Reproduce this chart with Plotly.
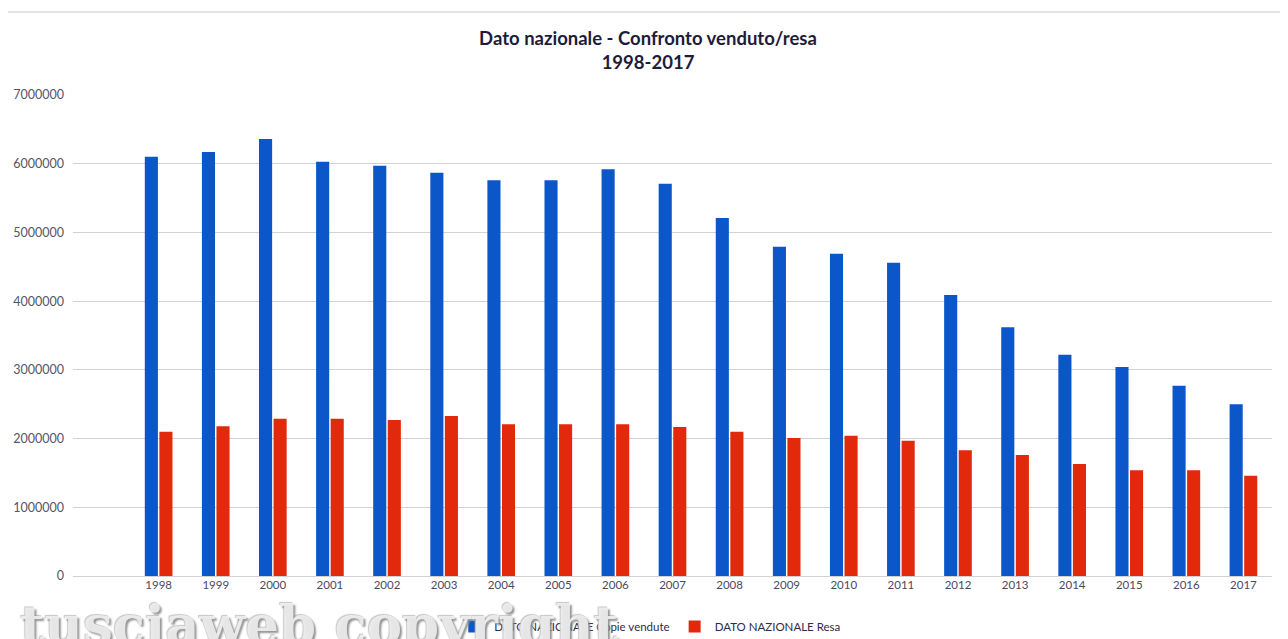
import plotly.graph_objects as go

anni = [str(a) for a in range(1998, 2018)]

copie_vendute = [6100000, 6170000, 6360000, 6030000, 5970000, 5870000, 5760000, 5760000,
                 5920000, 5710000, 5210000, 4790000, 4690000, 4560000, 4090000, 3620000,
                 3220000, 3040000, 2770000, 2500000]

resa = [2100000, 2180000, 2290000, 2290000, 2270000, 2330000, 2210000, 2210000,
        2210000, 2170000, 2100000, 2010000, 2040000, 1970000, 1830000, 1760000,
        1630000, 1540000, 1540000, 1460000]

BLU = '#0b56c8'
ROSSO = '#e2290c'

fig = go.Figure()

fig.add_trace(go.Bar(
    x=anni,
    y=copie_vendute,
    name='DATO NAZIONALE Copie vendute',
    marker={'color': BLU, 'line': {'width': 0}},
))

fig.add_trace(go.Bar(
    x=anni,
    y=resa,
    name='DATO NAZIONALE Resa',
    marker={'color': ROSSO, 'line': {'width': 0}},
))

# la pagina html ha 8px di margine sul body: la figura e' 1280x631
fig.update_layout(
    width=1280,
    height=631,
    margin={'l': 65, 'r': 16, 't': 87, 'b': 63, 'autoexpand': False},
    paper_bgcolor='white',
    plot_bgcolor='white',
    barmode='group',
    bargap=0.49,
    bargroupgap=0.1,
    font={'family': 'Lato, Open Sans, sans-serif', 'color': '#55546a', 'size': 11},
    title={
        'text': '<b>Dato nazionale - Confronto venduto/resa<br>1998-2017</b>',
        'x': 0.5,
        'xanchor': 'center',
        'y': 0.942,
        'yanchor': 'top',
        'font': {'family': 'Lato, Open Sans, sans-serif', 'size': 18.5, 'color': '#1e1c3a'},
    },
    xaxis={
        'type': 'category',
        'range': [-1.5, 19.5],
        'showgrid': False,
        'showline': False,
        'ticks': '',
        'automargin': False,
        'tickfont': {'size': 11.5, 'color': '#4a4962'},
    },
    yaxis={
        'range': [0, 7000000],
        'dtick': 1000000,
        'tickformat': 'd',
        'showgrid': True,
        'gridcolor': '#d2d2d2',
        'gridwidth': 1,
        'zeroline': True,
        'zerolinecolor': '#d2d2d2',
        'zerolinewidth': 1,
        'ticks': '',
        'automargin': False,
        'ticklabelstandoff': 8,
        'tickfont': {'size': 12.5, 'color': '#55546a'},
    },
    legend={
        'orientation': 'h',
        'x': 0.318,
        'xanchor': 'left',
        'y': -0.075,
        'yanchor': 'top',
        'font': {'size': 11.5, 'color': '#2e2c4a'},
        'itemwidth': 30,
        'tracegroupgap': 0,
    },
    showlegend=True,
)

# cornice grigia del grafico
fig.add_shape(
    type='rect', xref='paper', yref='paper',
    x0=-0.0567, x1=1.0092, y0=-0.2, y1=1.1726,
    line={'color': '#c8c8c8', 'width': 1},
    fillcolor='rgba(0,0,0,0)', layer='below',
)

# filigrana
fig.add_annotation(
    text='<b>tusciaweb copyright</b>',
    xref='paper', yref='paper',
    x=-0.046, y=-0.168,
    xanchor='left', yanchor='bottom',
    showarrow=False,
    font={'family': 'DejaVu Serif, serif', 'size': 53, 'color': 'rgba(240,240,240,0.9)',
          'shadow': '2px 2px 2px #8a8a8a, -1px -1px 1px #c0c0c0'},
)

fig.write_html('out.html')
